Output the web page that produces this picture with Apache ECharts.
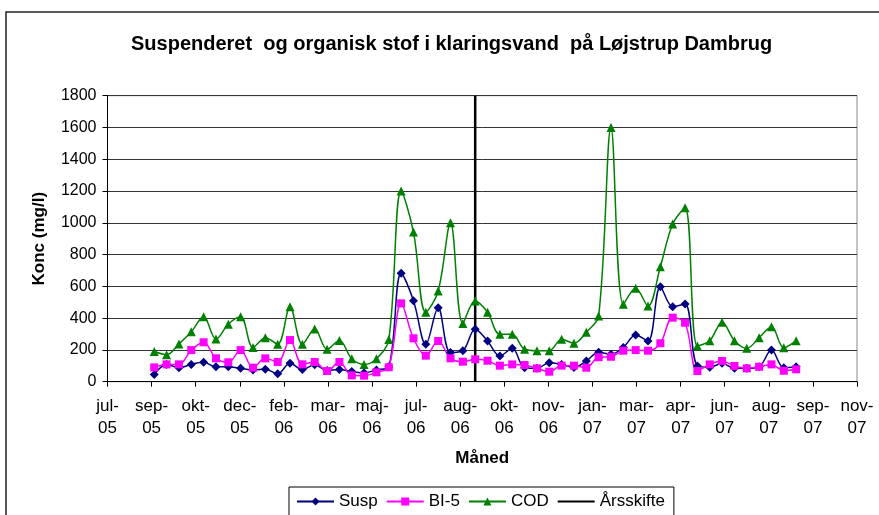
<!DOCTYPE html>
<html>
<head>
<meta charset="utf-8">
<script src="https://cdn.jsdelivr.net/npm/echarts@6/dist/echarts.min.js"></script>
<style>
html, body { margin: 0; padding: 0; background: #fff; }
#chart { width: 879px; height: 515px; }
</style>
</head>
<body>
<div id="chart"></div>
<script>
const FONT = "'Liberation Sans', Arial, sans-serif"

// x axis counts days from this date, one tick every 50 days
const AXIS_START = '2005-07-17'
const AXIS_DAYS = 850
const TICK_DAYS = 50
const MONTHS = ['jan', 'feb', 'mar', 'apr', 'maj', 'jun', 'jul', 'aug', 'sep', 'okt', 'nov', 'dec']

const DATES = [
  '2005-09-08', '2005-09-22', '2005-10-06', '2005-10-20', '2005-11-03', '2005-11-17',
  '2005-12-01', '2005-12-15', '2005-12-29', '2006-01-12', '2006-01-26', '2006-02-09',
  '2006-02-23', '2006-03-09', '2006-03-23', '2006-04-06', '2006-04-20', '2006-05-04',
  '2006-05-18', '2006-06-01', '2006-06-15', '2006-06-29', '2006-07-13', '2006-07-27',
  '2006-08-10', '2006-08-24', '2006-09-07', '2006-09-21', '2006-10-05', '2006-10-19',
  '2006-11-02', '2006-11-16', '2006-11-30', '2006-12-14', '2006-12-28', '2007-01-11',
  '2007-01-25', '2007-02-08', '2007-02-22', '2007-03-08', '2007-03-22', '2007-04-05',
  '2007-04-19', '2007-05-03', '2007-05-17', '2007-05-31', '2007-06-14', '2007-06-28',
  '2007-07-12', '2007-07-26', '2007-08-09', '2007-08-23', '2007-09-06',
]

const SUSP = [
  46, 109, 88, 109, 122, 94, 94, 84, 74, 78, 50, 116, 76, 107, 70, 76, 64, 56,
  74, 94, 682, 510, 235, 466, 183, 195, 330, 256, 162, 210, 88, 84, 120, 109, 90, 130,
  186, 173, 216, 294, 256, 598, 472, 489, 99, 91, 116, 84, 84, 94, 199, 88, 94,
]

const BI5 = [
  90, 109, 109, 199, 248, 147, 122, 199, 88, 147, 124, 262, 109, 124, 67, 124, 40, 38,
  59, 91, 493, 273, 164, 256, 147, 126, 141, 132, 101, 109, 105, 84, 63, 101, 101, 88,
  154, 157, 195, 199, 195, 242, 403, 371, 67, 109, 130, 99, 84, 94, 109, 69, 78,
]

const COD = [
  190, 170, 238, 315, 408, 268, 362, 408, 215, 277, 236, 472, 236, 331, 204, 259, 144, 109,
  145, 265, 1200, 942, 437, 571, 1000, 367, 508, 437, 298, 298, 204, 195, 195, 267, 242, 311,
  414, 1600, 487, 588, 476, 724, 992, 1095, 225, 258, 374, 258, 210, 277, 346, 214, 258,
]

const YEAR_SHIFT = '2006-09-07'
const Y_MAX = 1800
const Y_STEP = 200

const DAY_MS = 86400000
const startMs = Date.parse(AXIS_START)
const dayOf = d => (Date.parse(d) - startMs) / DAY_MS

function monthLabel(v) {
  const d = new Date(startMs + v * DAY_MS)
  return MONTHS[d.getUTCMonth()] + '-\n' + String(d.getUTCFullYear()).slice(2)
}

const pairs = vals => DATES.map((d, i) => [dayOf(d), vals[i]])

function lineSeries(name, vals, color, symbol, size) {
  return {
    name,
    type: 'line',
    data: pairs(vals),
    smooth: 0.35,
    symbol,
    symbolSize: size,
    showSymbol: true,
    color,
    lineStyle: { color, width: 1.5 },
    itemStyle: { color },
    z: 3,
    animation: false,
  }
}

const chart = echarts.init(document.getElementById('chart'))

chart.setOption({
  animation: false,
  textStyle: { fontFamily: FONT, color: '#000' },
  title: {
    text: 'Suspenderet  og organisk stof i klaringsvand  på Løjstrup Dambrug',
    left: 126,
    top: 29,
    textStyle: { fontFamily: FONT, fontSize: 20, fontWeight: 'bold', color: '#000' },
  },
  graphic: [{
    type: 'rect',
    shape: { x: 6, y: 12, width: 900, height: 520 },
    style: { fill: 'none', stroke: '#222', lineWidth: 1.5 },
    silent: true,
  }],
  legend: {
    data: ['Susp', 'BI-5', 'COD', { name: 'Årsskifte', itemStyle: { opacity: 0 } }],
    left: 289,
    top: 487,
    padding: [6, 9, 6, 7],
    itemWidth: 37,
    itemHeight: 10,
    itemGap: 8,
    borderColor: '#000',
    borderWidth: 1,
    backgroundColor: '#fff',
    textStyle: { fontFamily: FONT, fontSize: 17, color: '#000' },
  },
  grid: {
    left: 107.5, right: 22, top: 95.7, bottom: 133.3,
    show: true, borderColor: '#888', borderWidth: 1,
  },
  xAxis: {
    type: 'value',
    min: 0,
    max: AXIS_DAYS,
    interval: TICK_DAYS,
    name: 'Måned',
    nameLocation: 'middle',
    nameGap: 68,
    nameTextStyle: { fontFamily: FONT, fontSize: 17, fontWeight: 'bold', color: '#000' },
    axisLine: { show: true, onZero: false, lineStyle: { color: '#000', width: 1 } },
    axisTick: { show: true, inside: false, length: 5, lineStyle: { color: '#000' } },
    splitLine: { show: false },
    axisLabel: {
      formatter: monthLabel,
      fontFamily: FONT, fontSize: 17, lineHeight: 22, color: '#000', margin: 14,
      showMinLabel: true, showMaxLabel: true,
    },
  },
  yAxis: {
    type: 'value',
    min: 0,
    max: Y_MAX,
    interval: Y_STEP,
    name: 'Konc (mg/l)',
    nameLocation: 'middle',
    nameGap: 60,
    nameTextStyle: { fontFamily: FONT, fontSize: 17, fontWeight: 'bold', color: '#000' },
    axisLine: { show: true, lineStyle: { color: '#000', width: 1 } },
    axisTick: { show: true, inside: false, length: 5, lineStyle: { color: '#000' } },
    splitLine: { show: true, lineStyle: { color: '#333', width: 1 } },
    axisLabel: { formatter: v => String(v), fontFamily: FONT, fontSize: 16, color: '#000', margin: 11 },
  },
  series: [
    lineSeries('Susp', SUSP, '#000080', 'diamond', 9),
    lineSeries('BI-5', BI5, '#FF00FF', 'rect', 8),
    lineSeries('COD', COD, '#008000', 'triangle', 9),
    {
      name: 'Årsskifte',
      type: 'line',
      data: [[dayOf(YEAR_SHIFT), 0], [dayOf(YEAR_SHIFT), Y_MAX]],
      symbol: 'none',
      color: '#000',
      lineStyle: { color: '#000', width: 2.5 },
      z: 2,
      animation: false,
    },
  ],
})
</script>
</body>
</html>
